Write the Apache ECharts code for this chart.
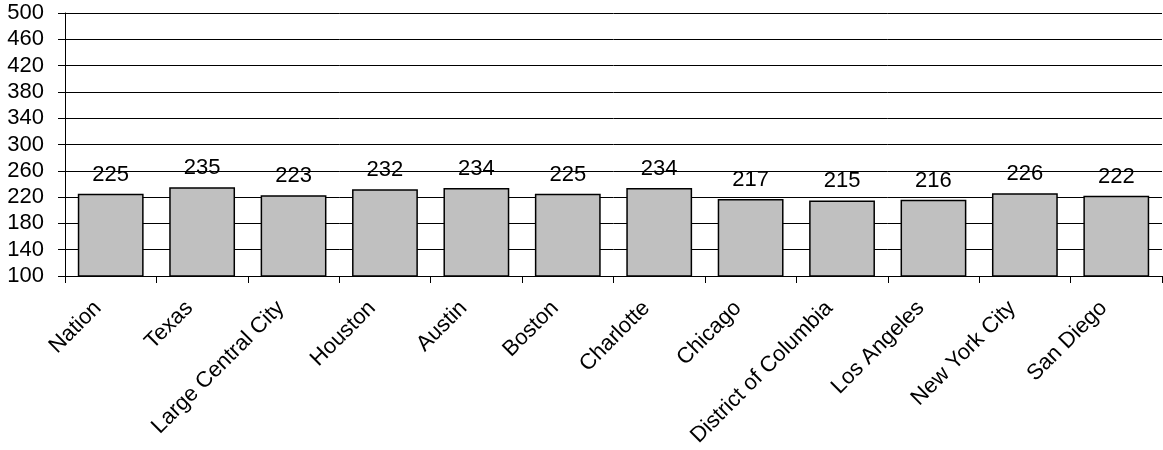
<!DOCTYPE html>
<html>
<head>
<meta charset="utf-8">
<script src="https://cdn.jsdelivr.net/npm/echarts@6/dist/echarts.min.js"></script>
<style>
  html, body { margin: 0; padding: 0; background: #fff; }
  #chart { width: 1163px; height: 450px; }
</style>
</head>
<body>
<div id="chart"></div>
<script>
// Average scale scores by jurisdiction
const categories = ['Nation', 'Texas', 'Large Central City', 'Houston', 'Austin', 'Boston',
  'Charlotte', 'Chicago', 'District of Columbia', 'Los Angeles', 'New York City', 'San Diego'];
const scores = [225, 235, 223, 232, 234, 225, 234, 217, 215, 216, 226, 222];
const yMin = 100;
const yMax = 500;
const yStep = 40;

const font = 'Liberation Sans, Arial, sans-serif';
const chart = echarts.init(document.getElementById('chart'), null, { renderer: 'canvas' });

chart.setOption({
  animation: false,
  backgroundColor: '#ffffff',
  grid: { left: 65, right: 1, top: 13, bottom: 174, containLabel: false },
  xAxis: {
    type: 'category',
    data: categories,
    axisLine: { show: true, lineStyle: { color: '#000', width: 1 } },
    axisTick: { show: true, alignWithLabel: false, length: 7, lineStyle: { color: '#000' } },
    axisLabel: {
      rotate: 45,
      interval: 0,
      margin: 16,
      padding: [0, 18, 0, 0],
      color: '#000',
      fontFamily: font,
      fontSize: 22
    }
  },
  yAxis: {
    type: 'value',
    min: yMin,
    max: yMax,
    interval: yStep,
    axisLine: { show: true, lineStyle: { color: '#000', width: 1 } },
    axisTick: { show: true, length: 7, lineStyle: { color: '#000' } },
    splitLine: { show: true, lineStyle: { color: '#000', width: 1 } },
    axisLabel: {
      margin: 21,
      color: '#000',
      fontFamily: font,
      fontSize: 22
    }
  },
  series: [{
    type: 'bar',
    data: scores,
    barCategoryGap: '28%',
    itemStyle: { color: '#c0c0c0', borderColor: '#000', borderWidth: 1.5 },
    label: {
      show: true,
      position: 'top',
      distance: 8,
      color: '#000',
      fontFamily: font,
      fontSize: 22
    }
  }]
});
</script>
</body>
</html>
